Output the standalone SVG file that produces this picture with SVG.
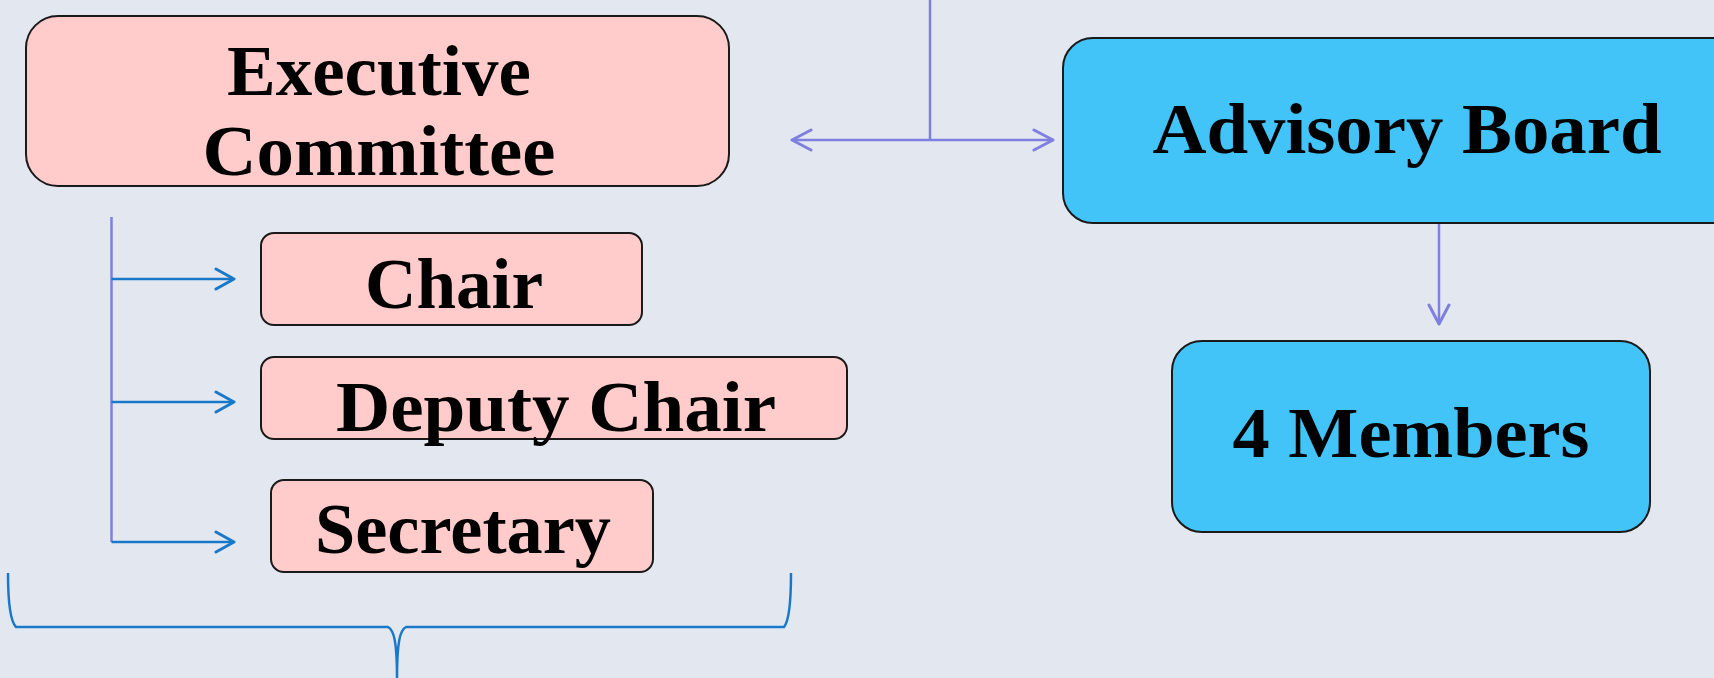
<svg xmlns="http://www.w3.org/2000/svg" width="1714" height="678" viewBox="0 0 1714 678">
<style>
.pink{fill:#ffcbcb;stroke:#1a1a1a;stroke-width:2}
.blue{fill:#43c4f8;stroke:#1a1a1a;stroke-width:2}
.lbl{font-family:"Liberation Serif","Times New Roman",serif;font-weight:bold;font-size:72px;fill:#000;text-anchor:middle}
.pur{fill:none;stroke:#7f7fe0;stroke-width:2.5}
.blu{fill:none;stroke:#1a78c8;stroke-width:2.5}
</style>
<defs>
<marker id="ap" markerUnits="userSpaceOnUse" viewBox="-22 -12 24 24" markerWidth="24" markerHeight="24" refX="0" refY="0" orient="auto-start-reverse">
<path d="M-19,-10 L0,0 L-19,10" fill="none" stroke="#7f7fe0" stroke-width="3" stroke-linecap="round" stroke-linejoin="round"/>
</marker>
<marker id="ab" markerUnits="userSpaceOnUse" viewBox="-22 -12 24 24" markerWidth="24" markerHeight="24" refX="0" refY="0" orient="auto">
<path d="M-18,-10 L0,0 L-18,10" fill="none" stroke="#1a78c8" stroke-width="3" stroke-linecap="round" stroke-linejoin="round"/>
</marker>
</defs>
<rect x="0" y="0" width="1714" height="678" fill="#e3e8f0"/>
<g id="connectors">
<path class="pur" d="M792,140 L1053,140" marker-start="url(#ap)" marker-end="url(#ap)"/>
<path class="pur" d="M930,0 L930,140"/>
<path class="pur" d="M1439,223 L1439,324" marker-end="url(#ap)"/>
<path class="pur" d="M111.5,217 L111.5,542"/>
<path class="blu" d="M111.5,279 L234,279" marker-end="url(#ab)"/>
<path class="blu" d="M111.5,402 L234,402" marker-end="url(#ab)"/>
<path class="blu" d="M111.5,542 L234,542" marker-end="url(#ab)"/>
<path class="blu" d="M8,573 C8,600 10,621 16,627 L388,627 C394,630 397,642 397,678 C397,642 400,630 406,627 L784,627 C789,621 791,600 791,573"/>
</g>
<g id="executive">
<rect class="pink" x="26" y="16" width="703" height="170" rx="32"/>
<text class="lbl" x="379" y="95" textLength="304" lengthAdjust="spacingAndGlyphs">Executive</text>
<text class="lbl" x="379" y="175" textLength="353" lengthAdjust="spacingAndGlyphs">Committee</text>
</g>
<g id="chair">
<rect class="pink" x="261" y="233" width="381" height="92" rx="13"/>
<text class="lbl" x="454" y="308" textLength="178" lengthAdjust="spacingAndGlyphs">Chair</text>
</g>
<g id="deputy">
<rect class="pink" x="261" y="357" width="586" height="82" rx="13"/>
<text class="lbl" x="556" y="431" textLength="440" lengthAdjust="spacingAndGlyphs">Deputy Chair</text>
</g>
<g id="secretary">
<rect class="pink" x="271" y="480" width="382" height="92" rx="13"/>
<text class="lbl" x="463" y="553" textLength="296" lengthAdjust="spacingAndGlyphs">Secretary</text>
</g>
<g id="advisory">
<rect class="blue" x="1063" y="38" width="690" height="185" rx="30"/>
<text class="lbl" x="1407" y="153" textLength="509" lengthAdjust="spacingAndGlyphs">Advisory Board</text>
</g>
<g id="members">
<rect class="blue" x="1172" y="341" width="478" height="191" rx="30"/>
<text class="lbl" x="1411" y="457" textLength="357" lengthAdjust="spacingAndGlyphs">4 Members</text>
</g>
</svg>
